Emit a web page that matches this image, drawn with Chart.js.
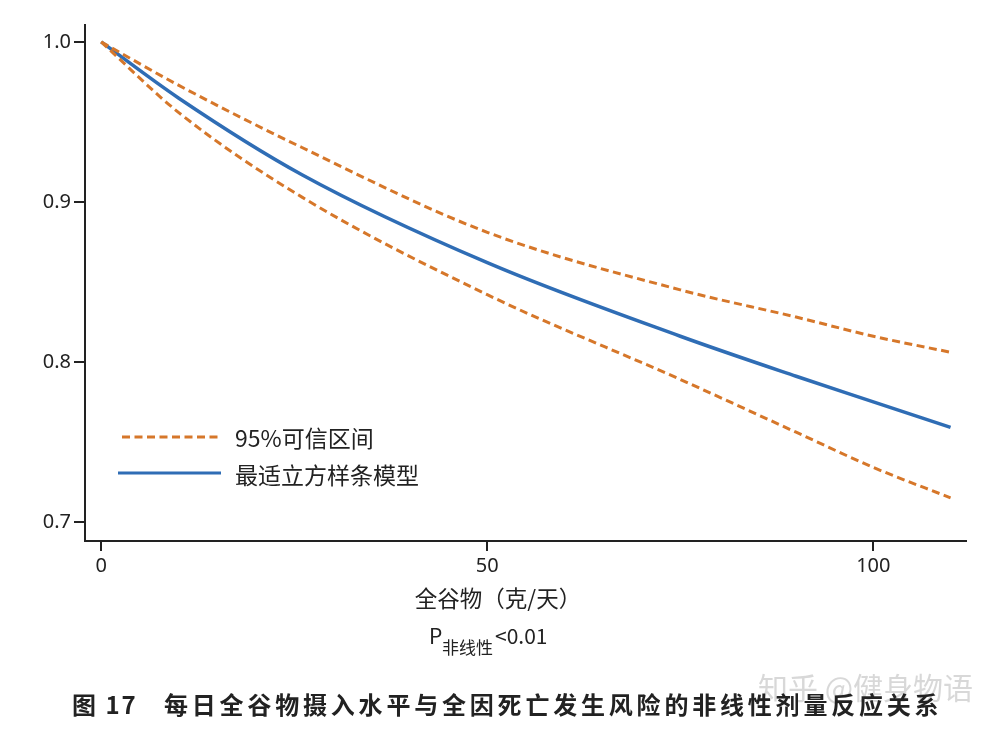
<!DOCTYPE html>
<html>
<head>
<meta charset="utf-8">
<script src="https://cdn.jsdelivr.net/npm/chart.js@4"></script>
<style>
  body { margin: 0; background: #fff; }
  #wrap { width: 999px; height: 731px; }
</style>
</head>
<body>
<div id="wrap"><canvas id="chart" width="999" height="731"></canvas></div>
<script>
// whole grain intake (g/day) vs relative risk of all-cause death
const intake = [0, 10, 26, 50, 75, 90, 100, 110];
const fitCurve = [1.0, 0.965, 0.917, 0.862, 0.816, 0.791, 0.775, 0.759];
const upperCI = [1.0, 0.973, 0.934, 0.881, 0.845, 0.828, 0.816, 0.806];
const lowerCI = [1.0, 0.956, 0.903, 0.842, 0.789, 0.756, 0.734, 0.715];
const xTicks = [0, 50, 100];
const yTicks = [0.7, 0.8, 0.9, 1.0];

const ORANGE = '#D6772A';
const BLUE = '#2F6DB5';
const INK = '#222';
const cjk = '"Noto Sans CJK SC", "Noto Sans", sans-serif';

const toPts = arr => arr.map((v, i) => ({ x: intake[i], y: v }));

// legend, axis title, P value, caption
const extraText = {
  id: 'extraText',
  afterDraw(chart) {
    const ctx = chart.ctx;
    ctx.save();

    // legend
    ctx.lineWidth = 3;
    ctx.strokeStyle = ORANGE;
    ctx.setLineDash([8, 4.5]);
    ctx.beginPath(); ctx.moveTo(122, 437); ctx.lineTo(222, 437); ctx.stroke();
    ctx.setLineDash([]);
    ctx.strokeStyle = BLUE;
    ctx.lineWidth = 3;
    ctx.beginPath(); ctx.moveTo(118, 473); ctx.lineTo(221, 473); ctx.stroke();

    ctx.fillStyle = INK;
    ctx.textBaseline = 'middle';
    ctx.textAlign = 'left';
    ctx.font = '23px ' + cjk;
    ctx.fillText('95%可信区间', 235, 438);
    ctx.fillText('最适立方样条模型', 235, 475);

    // x axis title
    ctx.font = '22.5px ' + cjk;
    ctx.textAlign = 'center';
    ctx.fillText('全谷物（克/天）', 498, 598);

    // P value with subscript
    ctx.textAlign = 'left';
    ctx.font = '21px ' + cjk;
    ctx.fillText('P', 429, 636);
    ctx.font = '17px ' + cjk;
    ctx.fillText('非线性', 442, 648);
    ctx.font = '21px ' + cjk;
    ctx.fillText('<0.01', 495, 636);

    // watermark
    ctx.font = '30px ' + cjk;
    ctx.fillStyle = 'rgba(190,190,190,0.6)';
    ctx.fillText('知乎 @健身物语', 758, 688);

    // caption
    ctx.fillStyle = INK;
    ctx.font = 'bold 24px ' + cjk;
    ctx.letterSpacing = '2px';
    ctx.fillText('图 17', 72, 705);
    ctx.letterSpacing = '3.8px';
    ctx.fillText('每日全谷物摄入水平与全因死亡发生风险的非线性剂量反应关系', 164, 705);
    ctx.restore();
  }
};

new Chart(document.getElementById('chart').getContext('2d'), {
  type: 'line',
  data: {
    datasets: [
      {
        label: '95%可信区间',
        data: toPts(upperCI),
        borderColor: ORANGE,
        borderWidth: 3,
        borderDash: [8, 4.5],
        pointRadius: 0,
        cubicInterpolationMode: 'monotone'
      },
      {
        label: '95%可信区间 lower',
        data: toPts(lowerCI),
        borderColor: ORANGE,
        borderWidth: 3,
        borderDash: [8, 4.5],
        pointRadius: 0,
        cubicInterpolationMode: 'monotone'
      },
      {
        label: '最适立方样条模型',
        data: toPts(fitCurve),
        borderColor: BLUE,
        borderWidth: 3.5,
        pointRadius: 0,
        cubicInterpolationMode: 'monotone'
      }
    ]
  },
  options: {
    responsive: false,
    animation: false,
    devicePixelRatio: 1,
    layout: { padding: { left: 0, top: 25, right: 33, bottom: 0 } },
    plugins: {
      legend: { display: false },
      tooltip: { enabled: false }
    },
    scales: {
      x: {
        type: 'linear',
        min: -2.1,
        max: 112,
        afterBuildTicks: s => { s.ticks = xTicks.map(v => ({ value: v })); },
        afterFit: s => { s.height = 190; },
        grid: { drawOnChartArea: false, tickLength: 10, color: INK, lineWidth: 2 },
        border: { display: true, color: INK, width: 2 },
        ticks: { color: INK, padding: 3, font: { family: '"Noto Sans", sans-serif', size: 20 } }
      },
      y: {
        type: 'linear',
        min: 0.688,
        max: 1.0106,
        afterBuildTicks: s => { s.ticks = yTicks.map(v => ({ value: v })); },
        afterFit: s => { s.width = 85; },
        grid: { drawOnChartArea: false, tickLength: 11, color: INK, lineWidth: 2 },
        border: { display: true, color: INK, width: 2 },
        ticks: {
          color: INK,
          padding: 3,
          font: { family: '"Noto Sans", sans-serif', size: 20 },
          callback: v => v.toFixed(1)
        }
      }
    }
  },
  plugins: [extraText]
});
</script>
</body>
</html>
